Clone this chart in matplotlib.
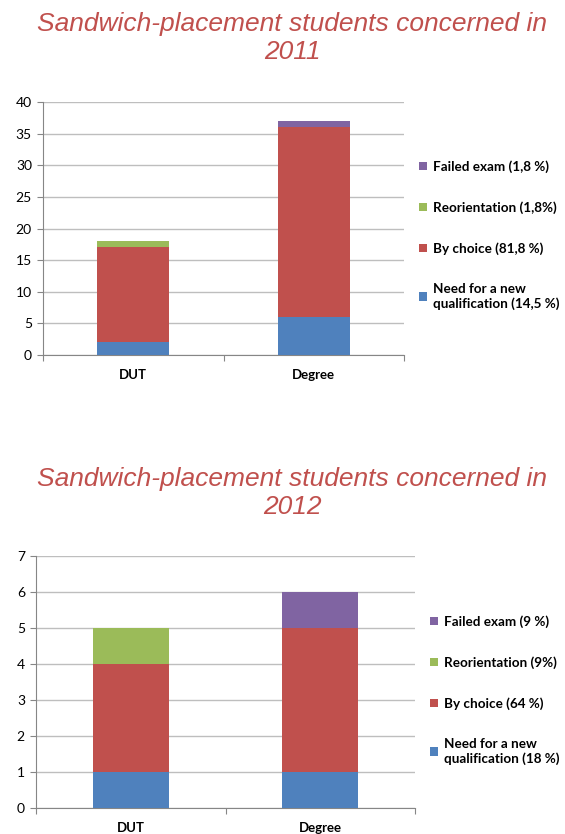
import matplotlib
matplotlib.use('Agg')
import matplotlib.pyplot as plt
import numpy as np

# stacked counts per category, bottom to top
categories = ['DUT', 'Degree']

need_2011 = [2, 6]
choice_2011 = [15, 30]
reorient_2011 = [1, 0]
failed_2011 = [0, 1]
labels_2011 = ['Need for a new\nqualification (14,5 %)', 'By choice (81,8 %)',
               'Reorientation (1,8%)', 'Failed exam (1,8 %)']

need_2012 = [1, 1]
choice_2012 = [3, 4]
reorient_2012 = [1, 0]
failed_2012 = [0, 1]
labels_2012 = ['Need for a new\nqualification (18 %)', 'By choice (64 %)',
               'Reorientation (9%)', 'Failed exam (9 %)']

colors = ['#4F81BD', '#C0504D', '#9BBB59', '#8064A2']
title_color = '#C0504D'
W, H = 565, 834


def px_axes(fig, left, top, right, bottom):
    return fig.add_axes([left / W, 1 - bottom / H, (right - left) / W, (bottom - top) / H])


def stacked(ax, series, labels, ymax, step):
    x = np.arange(len(categories))
    base = np.zeros(len(categories))
    handles = []
    for vals, lab, col in zip(series, labels, colors):
        b = ax.bar(x, vals, 0.4, bottom=base, color=col, label=lab, zorder=3)
        handles.append(b)
        base += np.array(vals)
    ax.set_xlim(-0.5, 1.5)
    ax.set_ylim(0, ymax)
    ax.set_yticks(np.arange(0, ymax + 1, step))
    ax.set_xticks([-0.5, 0.5, 1.5], minor=False)
    ax.set_xticklabels([])
    ax.set_xticks(x, minor=True)
    ax.set_xticklabels(categories, minor=True, fontweight='bold', fontsize=9.5,
                       family='Lato')
    ax.tick_params(axis='x', which='minor', length=0, pad=10)
    ax.tick_params(axis='x', which='major', length=4, color='#868686')
    ax.tick_params(axis='y', length=4, color='#868686', labelsize=10, pad=4)
    for t in ax.get_yticklabels():
        t.set_family('Lato')
    ax.yaxis.grid(True, color='#BEBEBE', linewidth=1, zorder=0)
    for s in ['top', 'right']:
        ax.spines[s].set_visible(False)
    for s in ['left', 'bottom']:
        ax.spines[s].set_color('#868686')
    return handles[::-1], labels[::-1]


legend_kw = dict(loc='upper left', frameon=False,
                 prop={'family': 'Lato', 'weight': 'bold', 'size': 9.7},
                 handlelength=0.6, handleheight=0.6, handletextpad=0.4,
                 labelspacing=2.1)

fig = plt.figure(figsize=(W / 100, H / 100), dpi=100)

ax1 = px_axes(fig, 43, 102, 404, 355)
h, l = stacked(ax1, [need_2011, choice_2011, reorient_2011, failed_2011], labels_2011, 40, 5)
fig.legend(h, l, bbox_to_anchor=(407 / W, 1 - 148 / H), **legend_kw)
fig.text(292 / W, 1 - 38 / H, 'Sandwich-placement students concerned in\n2011', ha='center',
         va='center', fontsize=19, style='italic', color=title_color,
         family='Liberation Sans', linespacing=1.2)

ax2 = px_axes(fig, 36, 556, 415, 808)
h, l = stacked(ax2, [need_2012, choice_2012, reorient_2012, failed_2012], labels_2012, 7, 1)
fig.legend(h, l, bbox_to_anchor=(418 / W, 1 - 603 / H), **legend_kw)
fig.text(292 / W, 1 - 493 / H, 'Sandwich-placement students concerned in\n2012', ha='center',
         va='center', fontsize=19, style='italic', color=title_color,
         family='Liberation Sans', linespacing=1.2)

fig.savefig('out.png', dpi=100)
